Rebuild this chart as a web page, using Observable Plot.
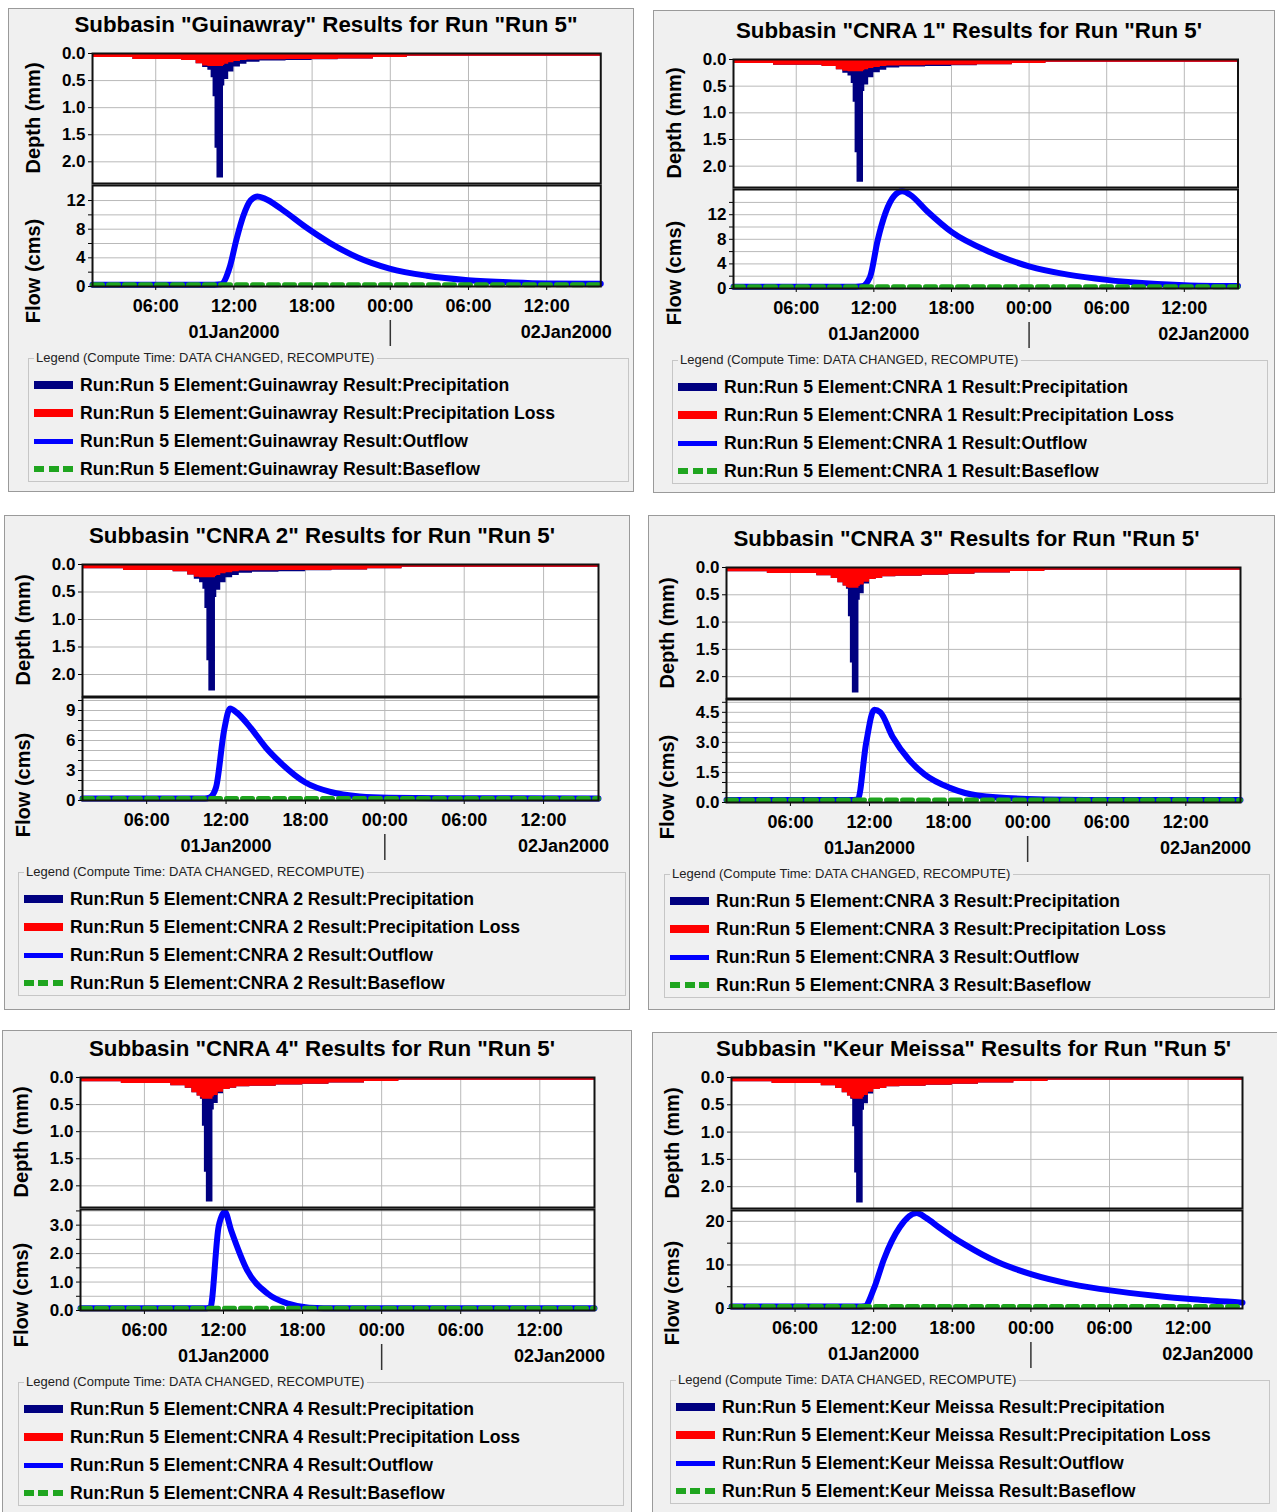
<!DOCTYPE html>
<html>
<head>
<meta charset="utf-8">
<script src="https://cdn.jsdelivr.net/npm/d3@7"></script>
<script src="https://cdn.jsdelivr.net/npm/@observablehq/plot@0.6"></script>
<style>
html,body{margin:0;padding:0;background:#fff;}
body{position:relative;width:1277px;height:1512px;overflow:hidden;font-family:"Liberation Sans",Arial,sans-serif;color:#000;}
.panel{position:absolute;background:#f0f0f0;border:1px solid #9a9a9a;box-sizing:border-box;}
.ttl{position:absolute;font-weight:bold;font-size:22.3px;white-space:nowrap;transform:translate(-50%,-50%);line-height:26px;}
.ylab{position:absolute;font-weight:bold;font-size:20px;white-space:nowrap;line-height:24px;transform:translate(-50%,-50%) rotate(-90deg);}
.plot{position:absolute;}
.leg{position:absolute;border:1px solid #c6c6c6;box-sizing:border-box;}
.legt{position:absolute;left:5px;top:-9px;font-size:13px;line-height:16px;background:#f0f0f0;padding:0 3px 0 2px;white-space:nowrap;color:#222;}
.sw{position:absolute;left:5px;width:39px;}
.et{position:absolute;left:51px;font-size:17.6px;font-weight:bold;line-height:24px;white-space:nowrap;}
</style>
</head>
<body>
<script>
// ---------------- data ----------------
const subbasins = ["Guinawray", "CNRA 1", "CNRA 2", "CNRA 3", "CNRA 4", "Keur Meissa"];
const titleEndQuote = ['"', "'", "'", "'", "'", "'"];
const runName = "Run 5";
const seriesNames = ["Precipitation", "Precipitation Loss", "Outflow", "Baseflow"];
const legendTitle = "Legend (Compute Time: DATA CHANGED, RECOMPUTE)";

const xDomainHours = [1.15, 40.15];          // hours after 01Jan2000 00:00
const timeTickHours = [6, 12, 18, 24, 30, 36];
const dateLabelHours = [12, 37.5];
const dateLabels = ["01Jan2000", "02Jan2000"];
const dayBreakHours = [24];
const depthTicks = [0, 0.5, 1, 1.5, 2];
const depthDomain = [0, 2.4];
const depthBreaks = [1.15, 4.25, 8.0, 9.1, 9.6, 10.0, 10.25, 10.4, 10.55, 10.7, 11.2, 11.3, 11.6, 12.0, 12.5, 13.0, 14.0, 16.0, 18.0, 20.0, 22.7, 25.3, 40.15];

// Guinawray
const guinawrayPrecip = [0.075, 0.11, 0.13, 0.19, 0.26, 0.31, 0.45, 0.80, 1.75, 2.30, 0.60, 0.48, 0.34, 0.25, 0.20, 0.16, 0.14, 0.13, 0.115, 0.10, 0.075, 0.05];
const guinawrayLoss   = [0.075, 0.11, 0.13, 0.19, 0.23, 0.24, 0.24, 0.24, 0.24, 0.24, 0.22, 0.20, 0.17, 0.15, 0.13, 0.12, 0.115, 0.11, 0.11, 0.10, 0.075, 0.05];
const guinawrayFlowHours = [1.15, 6, 10.5, 11.0, 11.67, 12.2, 12.73, 13.27, 13.8, 14.33, 15.65, 17.5, 19.35, 21.5, 23.95, 26.8, 29.96, 33.4, 36.07, 40.15];
const guinawrayOutflow   = [0.25, 0.25, 0.25, 0.3, 2.65, 6.6, 9.9, 12.0, 12.55, 12.3, 10.8, 8.3, 6.1, 4.05, 2.5, 1.5, 0.88, 0.56, 0.42, 0.37];
const guinawrayBaseflow  = [0.25, 0.25];

// CNRA 1
const cnra1Precip = [0.075, 0.11, 0.13, 0.19, 0.26, 0.31, 0.45, 0.80, 1.75, 2.30, 0.60, 0.48, 0.34, 0.25, 0.20, 0.16, 0.14, 0.13, 0.115, 0.10, 0.075, 0.05];
const cnra1Loss   = [0.075, 0.11, 0.13, 0.19, 0.22, 0.23, 0.23, 0.23, 0.23, 0.23, 0.21, 0.19, 0.17, 0.15, 0.13, 0.12, 0.115, 0.11, 0.11, 0.10, 0.075, 0.05];
const cnra1FlowHours = [1.15, 6, 10.6, 11.07, 11.7, 12.3, 12.9, 13.55, 14.2, 14.8, 16.1, 18.0, 21.0, 24.0, 27.0, 30.0, 33.0, 36.4, 40.15];
const cnra1Outflow   = [0.3, 0.3, 0.3, 0.35, 1.85, 7.9, 12.3, 15.0, 15.8, 15.25, 12.6, 9.2, 5.9, 3.6, 2.25, 1.4, 0.85, 0.5, 0.4];
const cnra1Baseflow  = [0.3, 0.3];

// CNRA 2
const cnra2Precip = [0.075, 0.11, 0.13, 0.19, 0.27, 0.33, 0.45, 0.80, 1.75, 2.30, 0.60, 0.47, 0.33, 0.24, 0.20, 0.16, 0.14, 0.13, 0.115, 0.10, 0.075, 0.05];
const cnra2Loss   = [0.075, 0.11, 0.13, 0.19, 0.23, 0.24, 0.24, 0.24, 0.24, 0.24, 0.22, 0.20, 0.17, 0.15, 0.13, 0.12, 0.115, 0.11, 0.11, 0.10, 0.075, 0.05];
const cnra2FlowHours = [1.15, 6, 10.4, 10.77, 11.24, 11.85, 12.3, 12.8, 13.9, 15.0, 16.1, 18.0, 19.9, 22.1, 24.3, 30, 40.15];
const cnra2Outflow   = [0.2, 0.2, 0.2, 0.3, 1.3, 7.0, 9.2, 8.8, 7.2, 5.3, 3.8, 1.8, 0.85, 0.4, 0.27, 0.22, 0.2];
const cnra2Baseflow  = [0.2, 0.2];

// CNRA 3
const cnra3Precip = [0.08, 0.11, 0.15, 0.20, 0.28, 0.34, 0.40, 0.90, 1.75, 2.30, 0.60, 0.48, 0.30, 0.22, 0.20, 0.17, 0.16, 0.14, 0.125, 0.10, 0.075, 0.05];
const cnra3Loss   = [0.08, 0.11, 0.15, 0.20, 0.28, 0.34, 0.37, 0.38, 0.38, 0.38, 0.35, 0.32, 0.27, 0.22, 0.20, 0.17, 0.16, 0.14, 0.125, 0.10, 0.075, 0.05];
const cnra3FlowHours = [1.15, 6, 10.8, 11.12, 11.74, 12.36, 12.82, 13.75, 15.0, 16.2, 18.1, 20.2, 24, 30, 40.15];
const cnra3Outflow   = [0.12, 0.12, 0.12, 0.15, 2.95, 4.63, 4.5, 3.28, 2.13, 1.39, 0.73, 0.35, 0.18, 0.13, 0.12];
const cnra3Baseflow  = [0.12, 0.12];

// CNRA 4
const cnra4Precip = [0.08, 0.11, 0.15, 0.20, 0.28, 0.34, 0.40, 0.90, 1.75, 2.30, 0.60, 0.48, 0.30, 0.22, 0.20, 0.17, 0.16, 0.14, 0.125, 0.10, 0.075, 0.05];
const cnra4Loss   = [0.08, 0.11, 0.15, 0.20, 0.28, 0.34, 0.38, 0.40, 0.40, 0.40, 0.36, 0.33, 0.27, 0.22, 0.20, 0.17, 0.16, 0.14, 0.125, 0.10, 0.075, 0.05];
const cnra4FlowHours = [1.15, 6, 10.7, 11.0, 11.63, 12.1, 12.57, 13.8, 15.36, 16.9, 18.5, 20.7, 40.15];
const cnra4Outflow   = [0.08, 0.08, 0.08, 0.1, 2.95, 3.47, 2.83, 1.41, 0.59, 0.24, 0.1, 0.08, 0.08];
const cnra4Baseflow  = [0.08, 0.08];

// Keur Meissa
const keurMeissaPrecip = [0.08, 0.11, 0.15, 0.20, 0.28, 0.34, 0.40, 0.90, 1.75, 2.30, 0.60, 0.48, 0.30, 0.22, 0.20, 0.17, 0.16, 0.14, 0.125, 0.10, 0.075, 0.05];
const keurMeissaLoss   = [0.08, 0.11, 0.15, 0.20, 0.28, 0.34, 0.38, 0.40, 0.40, 0.40, 0.36, 0.33, 0.27, 0.22, 0.20, 0.17, 0.16, 0.14, 0.125, 0.10, 0.075, 0.05];
const keurMeissaFlowHours = [1.15, 6, 10.8, 11.3, 12.06, 12.77, 14.0, 15.28, 16.0, 17.0, 18.0, 19.0, 21.5, 24.0, 27.1, 30.2, 33.3, 36.4, 40.15];
const keurMeissaOutflow   = [0.45, 0.45, 0.45, 0.5, 4.9, 11.2, 18.7, 21.9, 20.8, 18.6, 16.5, 14.6, 10.6, 7.9, 5.6, 4.1, 3.0, 2.1, 1.35];
const keurMeissaBaseflow  = [0.45, 0.45];

// flow axes
const flowMax      = [14.1, 16.1, 10.3, 5.14, 3.55, 22.5];
const flowLabels   = [[0,4,8,12], [0,4,8,12], [0,3,6,9], [0,1.5,3,4.5], [0,1,2,3], [0,10,20]];
const flowGrid     = [[2,4,6,8,10,12], [2,4,6,8,10,12,14], [1,2,3,4,5,6,7,8,9,10], [0.5,1,1.5,2,2.5,3,3.5,4,4.5,5], [0.5,1,1.5,2,2.5,3,3.5], [5,10,15,20]];
const flowFormat   = ["d", "d", "d", ".1f", ".1f", "d"];

// ---------------- layout (page pixels) ----------------
const layouts = [
  {box:[8,8,634,492],      fx:[91.7,600],  dy:[53,183],    fy:[185,286],   leg:[28,629]},
  {box:[653,10,1275,493],  fx:[733,1237.5],dy:[59,187],    fy:[189,288],   leg:[672,1268]},
  {box:[4,515,630,1010],   fx:[82,598],    dy:[564,696],   fy:[697,800],   leg:[18,626]},
  {box:[648,515,1275,1010],fx:[726,1240],  dy:[567,698],   fy:[699,802],   leg:[664,1270]},
  {box:[2,1030,632,1520],  fx:[80,594],    dy:[1077,1207], fy:[1209,1310], leg:[18,624]},
  {box:[652,1032,1285,1520],fx:[731,1242], dy:[1077,1208], fy:[1210,1308], leg:[670,1270]}
];

const panelData = [
  [guinawrayPrecip, guinawrayLoss, guinawrayFlowHours, guinawrayOutflow, guinawrayBaseflow],
  [cnra1Precip, cnra1Loss, cnra1FlowHours, cnra1Outflow, cnra1Baseflow],
  [cnra2Precip, cnra2Loss, cnra2FlowHours, cnra2Outflow, cnra2Baseflow],
  [cnra3Precip, cnra3Loss, cnra3FlowHours, cnra3Outflow, cnra3Baseflow],
  [cnra4Precip, cnra4Loss, cnra4FlowHours, cnra4Outflow, cnra4Baseflow],
  [keurMeissaPrecip, keurMeissaLoss, keurMeissaFlowHours, keurMeissaOutflow, keurMeissaBaseflow]
];

const COLORS = {precip:"#000080", loss:"#ff0000", outflow:"#0000ff", base:"#1fa51f", grid:"#b9b9b9", frame:"#111"};
const FONT = '"Liberation Sans", Arial, sans-serif';
const t0 = Date.UTC(2000, 0, 1);
const toDate = h => new Date(t0 + h * 3600000);
const xDomain = xDomainHours.map(toDate);
const timeTicks = timeTickHours.map(toDate);

function el(tag, cls, css, text) {
  const e = document.createElement(tag);
  if (cls) e.className = cls;
  if (css) Object.assign(e.style, css);
  if (text != null) e.textContent = text;
  document.body.appendChild(e);
  return e;
}
function place(node, left, top) {
  node.classList.add("plot");
  node.style.left = left + "px";
  node.style.top = top + "px";
  document.body.appendChild(node);
}
const svgStyle = {background:"transparent", overflow:"visible", fontFamily:FONT, fontSize:"17px", fontWeight:"bold", color:"#000"};

subbasins.forEach((name, i) => {
  const L = layouts[i];
  const [precip, loss, fHours, outflow, baseflow] = panelData[i];
  const [bx0, by0, bx1, by1] = L.box;
  const [fx0, fx1] = L.fx;

  // panel box
  el("div", "panel", {left:bx0+"px", top:by0+"px", width:(bx1-bx0)+"px", height:(by1-by0)+"px"});
  // title
  el("div", "ttl", {left:((bx0+bx1)/2+5)+"px", top:(L.dy[0]-28)+"px"},
     `Subbasin "${name}" Results for Run "${runName}${titleEndQuote[i]}`);
  // axis titles
  el("div", "ylab", {left:(fx0-59)+"px", top:((L.dy[0]+L.dy[1])/2)+"px"}, "Depth (mm)");
  el("div", "ylab", {left:(fx0-59)+"px", top:(L.fy[1]-15)+"px"}, "Flow (cms)");

  const mL = 70, mR = 22;
  const W = (fx1 - fx0) + mL + mR;

  // ---- depth plot (step areas hanging from 0) ----
  const n = precip.length;
  const steps = depthBreaks.map((h, k) => ({t: toDate(h), precip: precip[Math.min(k, n-1)], loss: loss[Math.min(k, n-1)]}));
  const dH = L.dy[1] - L.dy[0];
  const depth = Plot.plot({
    width: W, height: dH + 12 + 2,
    marginLeft: mL, marginRight: mR, marginTop: 12, marginBottom: 2,
    style: svgStyle,
    x: {type:"utc", domain: xDomain, axis: null, label: null},
    y: {domain: depthDomain, reverse: true, axis: null, label: null},
    marks: [
      Plot.frame({fill:"white", stroke:null}),
      Plot.gridX(timeTicks, {stroke:COLORS.grid, strokeOpacity:1, strokeWidth:1}),
      Plot.gridY(depthTicks.slice(1), {stroke:COLORS.grid, strokeOpacity:1, strokeWidth:1}),
      Plot.areaY(steps, {x:"t", y1:0, y2:"precip", curve:"step-after", fill:COLORS.precip, fillOpacity:1}),
      Plot.areaY(steps, {x:"t", y1:0, y2:"loss", curve:"step-after", fill:COLORS.loss, fillOpacity:1}),
      Plot.axisY(depthTicks, {tickSize:4, tickPadding:3, tickFormat:d3.format(".1f"), fontSize:17, fontWeight:"bold", label:null}),
      Plot.frame({stroke:COLORS.frame, strokeWidth:2})
    ]
  });
  place(depth, fx0 - mL, L.dy[0] - 12);

  // ---- flow plot ----
  const fH = L.fy[1] - L.fy[0];
  const outRows = fHours.map((h, k) => ({t: toDate(h), v: outflow[k]}));
  const baseRows = xDomainHours.map((h, k) => ({t: toDate(h), v: baseflow[k]}));
  const dateRows = dateLabelHours.map((h, k) => ({t: toDate(h), label: dateLabels[k]}));
  const labelSet = flowLabels[i];
  const fmt = d3.format(flowFormat[i]);
  const isLabel = d => labelSet.some(v => Math.abs(v - d) < 1e-9);
  const flow = Plot.plot({
    width: W, height: fH + 12 + 70,
    marginLeft: mL, marginRight: mR, marginTop: 12, marginBottom: 70,
    style: svgStyle,
    x: {type:"utc", domain: xDomain, axis: null, label: null},
    y: {domain: [0, flowMax[i]], axis: null, label: null},
    marks: [
      Plot.frame({fill:"white", stroke:null}),
      Plot.gridX(timeTicks, {stroke:COLORS.grid, strokeOpacity:1, strokeWidth:1}),
      Plot.gridY(flowGrid[i], {stroke:COLORS.grid, strokeOpacity:1, strokeWidth:1}),
      Plot.line(outRows, {x:"t", y:"v", stroke:COLORS.outflow, strokeWidth:6, curve:"monotone-x"}),
      Plot.line(baseRows, {x:"t", y:"v", stroke:COLORS.base, strokeWidth:5, strokeDasharray:"10,6"}),
      Plot.axisY([0, ...flowGrid[i]], {tickSize:4, tickPadding:3, tickFormat: d => isLabel(d) ? fmt(d) : "", fontSize:17, fontWeight:"bold", label:null}),
      Plot.axisX(timeTicks, {tickSize:4, tickPadding:9, tickFormat:d3.utcFormat("%H:%M"), fontSize:18, fontWeight:"bold", label:null}),
      Plot.text(dateRows, {x:"t", text:"label", frameAnchor:"bottom", lineAnchor:"middle", dy:46, fontSize:18, fontWeight:"bold"}),
      Plot.ruleX(dayBreakHours.map(toDate), {stroke:"#333", strokeWidth:1.5, insetTop: fH + 34, insetBottom: -60}),
      Plot.frame({stroke:COLORS.frame, strokeWidth:2})
    ]
  });
  place(flow, fx0 - mL, L.fy[0] - 12);

  // ---- legend ----
  const legTop = L.fy[1] + 72;
  const leg = el("div", "leg", {left:L.leg[0]+"px", top:legTop+"px", width:(L.leg[1]-L.leg[0])+"px", height:"124px"});
  const lt = document.createElement("div"); lt.className = "legt"; lt.textContent = legendTitle; leg.appendChild(lt);
  const swatches = [
    {background:COLORS.precip, height:"8px"},
    {background:COLORS.loss, height:"8px"},
    {background:COLORS.outflow, height:"5px"},
    {background:`repeating-linear-gradient(to right, ${COLORS.base} 0 10px, transparent 10px 14.5px)`, height:"6px"}
  ];
  seriesNames.forEach((s, k) => {
    const cy = 26 + 28 * k;
    const sw = document.createElement("div"); sw.className = "sw";
    Object.assign(sw.style, swatches[k]);
    sw.style.top = (cy - parseFloat(swatches[k].height) / 2) + "px";
    leg.appendChild(sw);
    const tx = document.createElement("div"); tx.className = "et";
    tx.style.top = (cy - 12) + "px";
    tx.textContent = `Run:${runName} Element:${name} Result:${s}`;
    leg.appendChild(tx);
  });
});
</script>
</body>
</html>
